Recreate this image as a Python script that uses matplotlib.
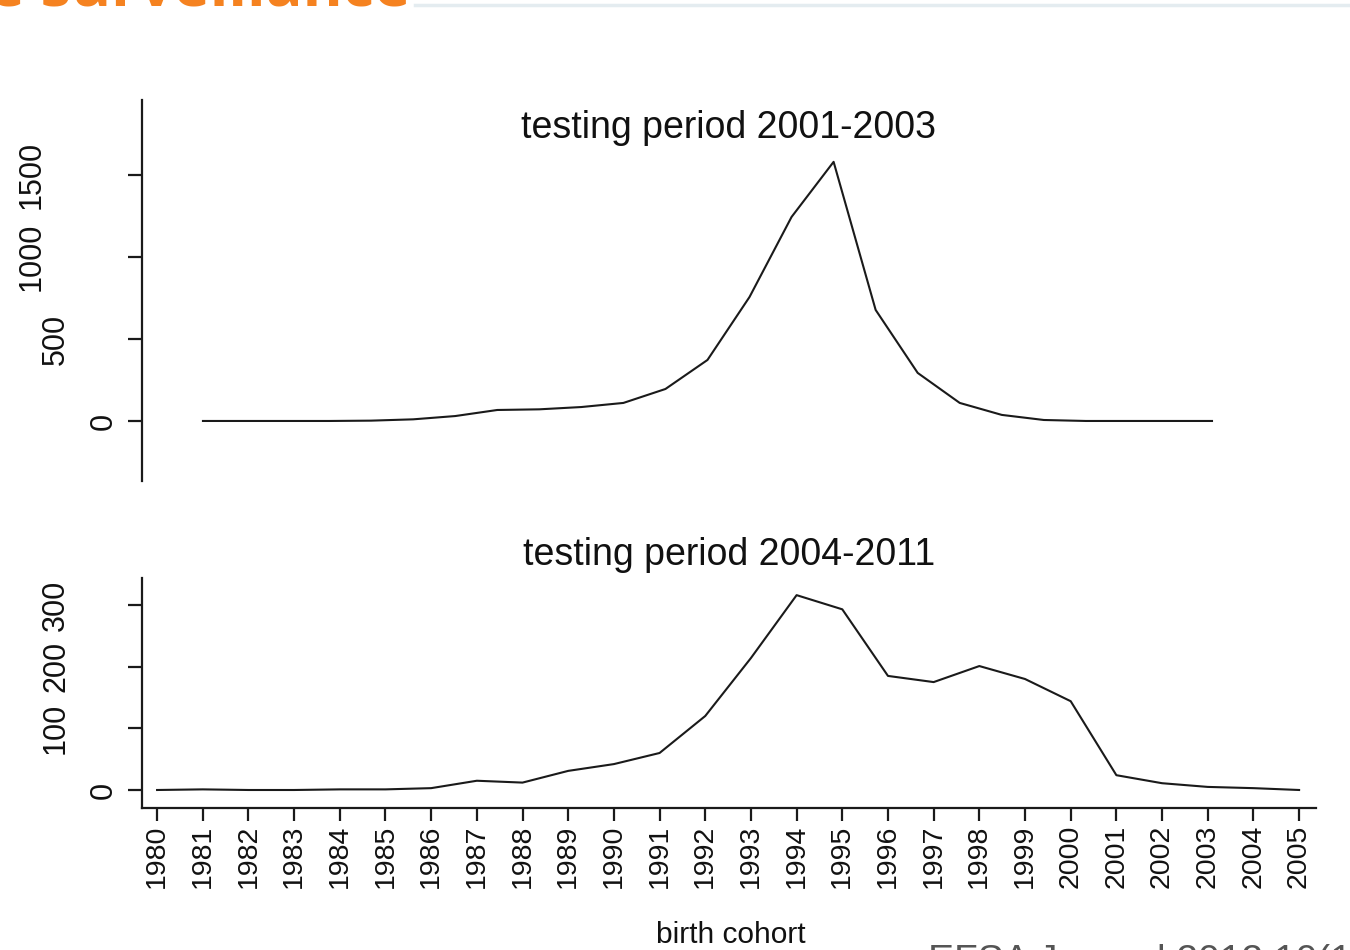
import matplotlib
matplotlib.use("Agg")
import matplotlib.pyplot as plt
import matplotlib.transforms as mtransforms
from matplotlib.lines import Line2D

plt.rcParams['font.family'] = ['Liberation Sans', 'DejaVu Sans']

# %%
# data

# top panel: testing period 2001-2003 (no x axis drawn)
cohort_top = list(range(1979, 2004))
cases_top = [0, 0, 0, 0, 2, 10, 30, 67, 71, 85, 110, 195, 372,
             756, 1244, 1580, 677, 293, 110, 37, 6, 0, 0, 0, 0]
yticks_top = [0, 500, 1000, 1500]

# bottom panel: testing period 2004-2011
cohort_bottom = list(range(1980, 2006))
cases_bottom = [0, 1, 0, 0, 1, 1, 3, 15, 12, 31, 42, 60, 120, 214,
                316, 293, 185, 175, 201, 180, 144, 24, 11, 5, 3, 0]
yticks_bottom = [0, 100, 200, 300]

titles = ["testing period 2001-2003", "testing period 2004-2011"]

W, H = 1350, 950
fig = plt.figure(figsize=(W / 100, H / 100), dpi=100)
fig.patch.set_facecolor("white")

LINE = "#1a1a1a"
TXT = "#111111"


def px_box(left, top, right, bottom):
    """axes rectangle from pixel coordinates (origin top-left)"""
    return [left / W, (H - bottom) / H, (right - left) / W, (bottom - top) / H]


def style_axes(ax):
    for s in ["top", "right"]:
        ax.spines[s].set_visible(False)
    for s in ["left", "bottom"]:
        ax.spines[s].set_linewidth(1.6)
        ax.spines[s].set_color(LINE)
    ax.tick_params(axis="y", length=10, width=1.6, color=LINE, labelleft=False)


def y_labels(ax, ticks):
    # labels rotated, shifted left by their length like in the source picture
    trans = mtransforms.blended_transform_factory(fig.transFigure, ax.transData)
    for t in ticks:
        lbl = str(t)
        xpx = 128 - 24 * len(lbl)
        ax.text(xpx / W, t, lbl, transform=trans, rotation=90,
                ha="center", va="center", fontsize=22, color=TXT)


# top panel
ax1 = fig.add_axes(px_box(142, 100, 1315, 481))
ax1.plot(cohort_top, cases_top, color=LINE, lw=1.5)
ax1.set_xlim(1977.55, 2005.45)
ax1.set_ylim(-366, 1957)
style_axes(ax1)
ax1.spines["bottom"].set_visible(False)
ax1.set_xticks([])
ax1.set_yticks(yticks_top)
y_labels(ax1, yticks_top)
ax1.text(0.5, (481 - 128) / 381, titles[0], transform=ax1.transAxes,
         ha="center", va="center", fontsize=27, color=TXT)

# bottom panel
ax2 = fig.add_axes(px_box(142, 578, 1316, 808))
ax2.plot(cohort_bottom, cases_bottom, color=LINE, lw=1.5)
ax2.set_xlim(1979.67, 2005.37)
ax2.set_ylim(-29.2, 343.8)
style_axes(ax2)
ax2.set_yticks(yticks_bottom)
y_labels(ax2, yticks_bottom)
ax2.set_xticks(cohort_bottom)
ax2.set_xticklabels([str(c) for c in cohort_bottom], rotation=90, fontsize=20.5,
                    color=TXT)
ax2.tick_params(axis="x", length=9, width=1.6, color=LINE, pad=3)
ax2.text(0.5, (808 - 555) / 230, titles[1], transform=ax2.transAxes,
         ha="center", va="center", fontsize=27, color=TXT)

fig.text(731 / W, (H - 935) / H, "birth cohort", ha="center", va="center",
         fontsize=21.5, color=TXT)

# slide remnants cut by the crop
fig.text(410 / W, (H - 5) / H, "Active surveillance", ha="right", va="baseline",
         fontsize=44, fontweight="bold", color="#F58220", family="Open Sans")
fig.add_artist(Line2D([415 / W, 1.0], [(H - 5) / H] * 2, transform=fig.transFigure,
                      color="#E4ECF0", lw=2.5))
fig.text(928 / W, (H - 944) / H, "EFSA Journal 2012;10(10):2913", ha="left",
         va="top", fontsize=28, color="#555555")

fig.savefig("out.png", dpi=100)
